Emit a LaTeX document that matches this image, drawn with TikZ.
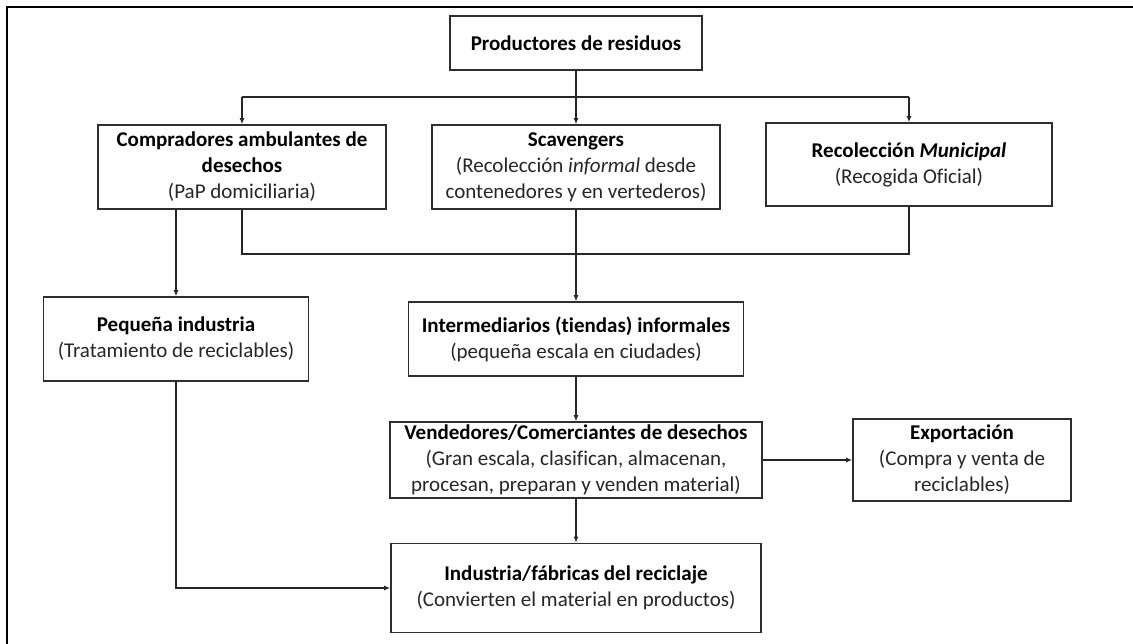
\documentclass[tikz,border=0pt]{standalone}
\usepackage{fontspec}
\setmainfont{Carlito}[Ligatures=NoCommon]
\usetikzlibrary{arrows.meta}
\definecolor{boxline}{HTML}{2E2E2E}
\definecolor{subtext}{HTML}{262626}
\tikzset{
  x=1pt, y=-1pt,
  box/.style={draw=boxline, line width=1.6pt, rectangle, inner sep=2pt, align=center,
    font=\fontsize{21}{26}\selectfont, text=subtext},
  conn/.style={draw=black!85, line width=1.8pt},
  arr/.style={conn, -{Latex[length=6pt,width=5pt]}},
}
\newcommand{\bt}[1]{\textbf{\color{black}#1}}
\begin{document}
\begin{tikzpicture}
\useasboundingbox (0,0) rectangle (1133,643);
\fill[white] (0,0) rectangle (1133,643);
% outer frame (right and bottom edges outside the picture)
\draw[line width=2.2pt, black] (7,660) -- (7,7) -- (1150,7);

\node[box, minimum width=252pt, minimum height=54pt] (prod) at (576,43) {\bt{Productores de residuos}};
\node[box, minimum width=288pt, minimum height=84pt] (comp) at (242,167) {\bt{Compradores ambulantes de}\\\bt{desechos}\\(PaP domiciliaria)};
\node[box, minimum width=288pt, minimum height=84pt] (scav) at (576,167) {\bt{Scavengers}\\(Recolección \textit{informal} desde\\contenedores y en vertederos)};
\node[box, minimum width=286pt, minimum height=83pt] (muni) at (909,164.5) {\bt{Recolección \textit{Municipal}}\\(Recogida Oficial)};
\node[box, minimum width=265pt, minimum height=84pt] (peq) at (176,339) {\bt{Pequeña industria}\\(Tratamiento de reciclables)};
\node[box, minimum width=335pt, minimum height=74pt] (inter) at (576,339) {\bt{Intermediarios (tiendas) informales}\\(pequeña escala en ciudades)};
\node[box, minimum width=372pt, minimum height=76pt] (vend) at (576,460) {\bt{Vendedores/Comerciantes de desechos}\\(Gran escala, clasifican, almacenan,\\procesan, preparan y venden material)};
\node[box, minimum width=218pt, minimum height=82pt] (exp) at (962,460) {\bt{Exportación}\\(Compra y venta de\\reciclables)};
\node[box, minimum width=370pt, minimum height=89pt] (ind) at (576,588) {\bt{Industria/fábricas del reciclaje}\\(Convierten el material en productos)};

\coordinate (busL) at (242,97);
\coordinate (busR) at (909,97);
\coordinate (jL) at (242,254);
\coordinate (jR) at (909,254);
\coordinate (pk) at (176,588);

\draw[arr] (prod.south) -- (scav.north);
\draw[conn] (busL) -- (busR);
\draw[arr] (busL) -- (comp.north);
\draw[arr] (busR) -- (muni.north);

\draw[arr] (peq.north |- comp.south) -- (peq.north);
\draw[conn] (comp.south) -- (jL) -- (jR) -- (muni.south);
\draw[arr] (scav.south) -- (inter.north);
\draw[arr] (inter.south) -- (vend.north);
\draw[arr] (vend.east) -- (exp.west);
\draw[arr] (vend.south) -- (ind.north);
\draw[arr] (peq.south) -- (pk) -- (ind.west);
\end{tikzpicture}
\end{document}
